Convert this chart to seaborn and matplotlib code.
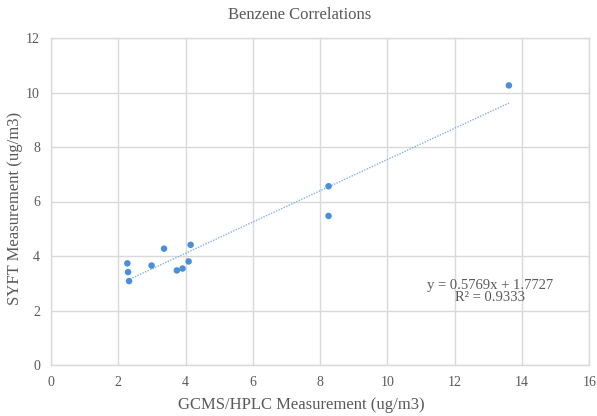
import matplotlib
matplotlib.use("Agg")
import matplotlib.pyplot as plt
import seaborn as sns
import pandas as pd
import numpy as np

gcms = [2.27, 2.29, 2.32, 2.99, 3.36, 3.74, 3.91, 4.09, 4.15, 8.25, 8.25, 13.61]
syft = [3.73, 3.41, 3.08, 3.65, 4.27, 3.47, 3.54, 3.80, 4.41, 6.56, 5.47, 10.26]
x_ticks = [0, 2, 4, 6, 8, 10, 12, 14, 16]
y_ticks = [0, 2, 4, 6, 8, 10, 12]
title = "Benzene Correlations"
x_label = "GCMS/HPLC Measurement (ug/m3)"
y_label = "SYFT Measurement (ug/m3)"
eq_text = "y = 0.5769x + 1.7727\nR² = 0.9333"

df = pd.DataFrame({"x": gcms, "y": syft})

sns.set_theme(style="white")
plt.rcParams["font.family"] = ["Liberation Serif", "DejaVu Serif"]

fig = plt.figure(figsize=(5.97, 4.16), dpi=100)
ax = fig.add_axes([51 / 597, (416 - 365) / 416, 538.3 / 597, 327 / 416])

point_color = "#4a8fd9"
sns.regplot(data=df, x="x", y="y", ax=ax, scatter=False, ci=None,
            line_kws=dict(color="#7fb2e5", lw=1.0, ls=(0, (1, 1))))
sns.scatterplot(data=df, x="x", y="y", ax=ax, color=point_color, s=22,
                edgecolor="none", zorder=3)

ax.set_xlim(0, 16)
ax.set_ylim(0, 12)
ax.set_xticks(x_ticks)
ax.set_yticks(y_ticks)
ax.grid(True, color="#d9d9d9", lw=1.0)
ax.set_axisbelow(True)
for s in ["top", "right", "left", "bottom"]:
    ax.spines[s].set_visible(True)
    ax.spines[s].set_color("#d9d9d9")
    ax.spines[s].set_linewidth(1.0)
ax.tick_params(axis="both", length=0, labelsize=10, labelcolor="#595959", pad=8)
ax.set_xlabel("")
ax.set_ylabel("")

fig.text(301 / 597, 1 - 405 / 416, x_label, ha="center", va="center",
         fontsize=12, color="#595959")
fig.text(15 / 597, 1 - 208 / 416, y_label, ha="center", va="center",
         rotation=90, fontsize=12, color="#595959")
fig.text(300 / 597, 1 - 15 / 416, title, ha="center", va="center",
         fontsize=12, color="#595959")

ax.text(13.05, 2.71, eq_text, ha="center", va="center", fontsize=10.5,
        color="#595959", linespacing=0.9)

fig.savefig("out.png", dpi=100)
